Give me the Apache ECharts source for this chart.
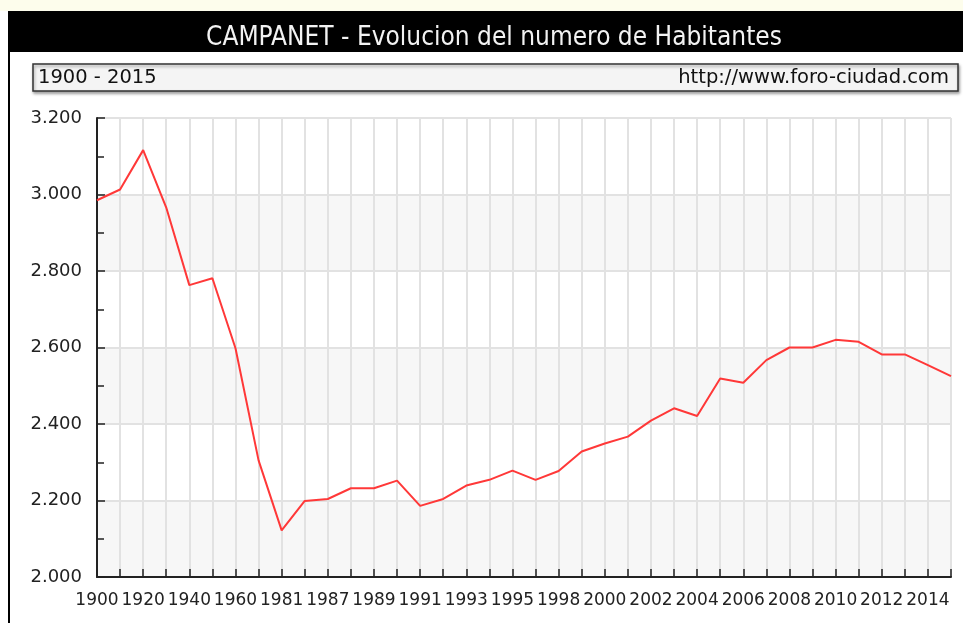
<!DOCTYPE html>
<html>
<head>
<meta charset="utf-8">
<title>CAMPANET - Evolucion del numero de Habitantes</title>
<script src="https://cdn.jsdelivr.net/npm/echarts@6/dist/echarts.min.js"></script>
<style>
  html, body { margin: 0; padding: 0; background: #ffffff; }
  #chart { width: 963px; height: 623px; }
</style>
</head>
<body>
<div id="chart"></div>
<script>
// Census years (1997 has no figure in the municipal register)
const years = [
  '1900', '1910', '1920', '1930', '1940', '1950', '1960', '1970',
  '1981', '1986', '1987', '1988', '1989', '1990', '1991', '1992',
  '1993', '1994', '1995', '1996', '1998', '1999', '2000', '2001',
  '2002', '2003', '2004', '2005', '2006', '2007', '2008', '2009',
  '2010', '2011', '2012', '2013', '2014', '2015'
];

// Inhabitants per year
const habitantes = [
  2985, 3013, 3116, 2966, 2763, 2781, 2598, 2305,
  2122, 2199, 2204, 2232, 2232, 2252, 2186, 2204,
  2239, 2254, 2278, 2254, 2277, 2328, 2349, 2367,
  2409, 2441, 2421, 2519, 2508, 2567, 2600, 2600,
  2620, 2615, 2582, 2582, 2554, 2525
];

const titulo = 'CAMPANET - Evolucion del numero de Habitantes';
const periodo = '1900 - 2015';
const fuente = 'http://www.foro-ciudad.com';

const yMin = 2000, yMax = 3200, yStep = 200;

// Spanish thousands separator: 3200 -> "3.200"
function miles(v) {
  return String(Math.round(v)).replace(/\B(?=(\d{3})+(?!\d))/g, '.');
}

const sansFont = '"DejaVu Sans", Verdana, sans-serif';
const condFont = '"DejaVu Sans Condensed", "DejaVu Sans", sans-serif';
const chart = echarts.init(document.getElementById('chart'), null, { renderer: 'canvas' });

chart.setOption({
  backgroundColor: '#ffffff',
  animation: false,
  graphic: [
    // pale strip along the top edge
    { type: 'rect', shape: { x: 0, y: 0, width: 963, height: 11 }, style: { fill: '#fdfdec' }, z: 0 },
    // black header bar
    { type: 'rect', shape: { x: 8, y: 11, width: 955, height: 41 }, style: { fill: '#000000' }, z: 10 },
    { type: 'text', x: 494, y: 38,
      style: { text: titulo, fill: '#f2f2f2', font: '26px ' + condFont,
               textAlign: 'center', textVerticalAlign: 'middle' }, z: 11 },
    // left frame line
    { type: 'rect', shape: { x: 8, y: 52, width: 2, height: 571 }, style: { fill: '#000000' }, z: 10 },
    // period / source box
    { type: 'rect', shape: { x: 33, y: 64, width: 925, height: 27 },
      style: { fill: '#f4f4f4', stroke: '#333333', lineWidth: 1.5,
               shadowColor: 'rgba(0,0,0,0.35)', shadowBlur: 3, shadowOffsetX: 1, shadowOffsetY: 2 }, z: 10 },
    { type: 'text', x: 38, y: 78,
      style: { text: periodo, fill: '#111111', font: '19.5px ' + sansFont,
               textAlign: 'left', textVerticalAlign: 'middle' }, z: 11 },
    { type: 'text', x: 949, y: 78,
      style: { text: fuente, fill: '#111111', font: '19.5px ' + sansFont,
               textAlign: 'right', textVerticalAlign: 'middle' }, z: 11 }
  ],
  grid: { left: 97, right: 12, top: 118, bottom: 46, containLabel: false },
  xAxis: {
    type: 'category',
    data: years,
    boundaryGap: false,
    axisLine: { show: true, lineStyle: { color: '#222222', width: 2 } },
    axisTick: { show: true, inside: true, length: 8, interval: 0, lineStyle: { color: '#222222', width: 1.5 } },
    axisLabel: { interval: 1, margin: 15, color: '#222222', fontSize: 17, fontFamily: sansFont, hideOverlap: false },
    splitLine: { show: true, interval: 0, lineStyle: { color: '#e2e2e2', width: 2 } }
  },
  yAxis: {
    type: 'value',
    min: yMin,
    max: yMax,
    interval: yStep,
    axisLine: { show: true, lineStyle: { color: '#222222', width: 2 } },
    axisTick: { show: true, inside: true, length: 8, lineStyle: { color: '#222222', width: 1.5 } },
    minorTick: { show: true, splitNumber: 2, length: 7, lineStyle: { color: '#222222', width: 1.5 } },
    axisLabel: { margin: 15, color: '#222222', fontSize: 18, fontFamily: sansFont, formatter: miles },
    splitLine: { show: true, lineStyle: { color: '#e2e2e2', width: 2 } },
    splitArea: { show: true, areaStyle: { color: ['#f7f7f7', '#ffffff'] } }
  },
  series: [{
    type: 'line',
    data: habitantes,
    symbol: 'none',
    smooth: false,
    lineStyle: { color: '#ff3838', width: 2 },
    z: 5
  }]
});
</script>
</body>
</html>
